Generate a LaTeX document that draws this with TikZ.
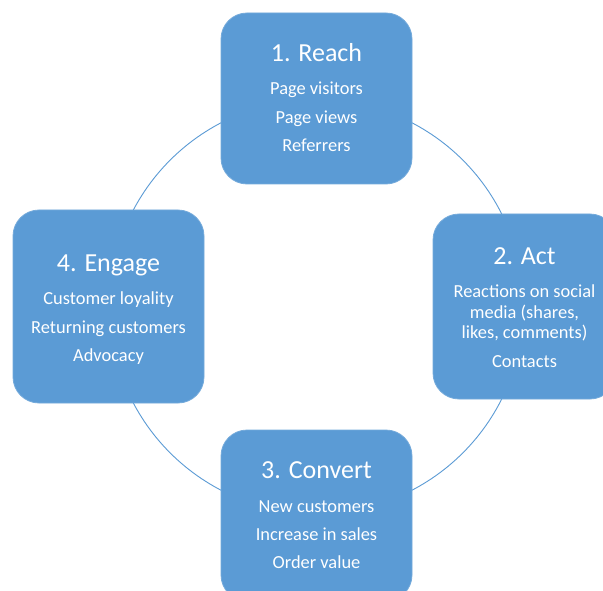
\documentclass[tikz,border=0pt]{standalone}
\usepackage{fontspec}
\setmainfont{Carlito}
\definecolor{officeblue}{HTML}{5B9BD5}
\tikzset{
  stagebox/.style={draw=officeblue!85!white, line width=0.8pt, fill=officeblue, rounded corners=26pt, inner sep=0pt},
  titletxt/.style={text=white, font=\fontsize{26}{30}\selectfont, anchor=base, inner sep=0pt},
  bodytxt/.style={text=white, font=\fontsize{18.4}{22}\selectfont, anchor=base, inner sep=0pt},
  ring/.style={draw=officeblue, line width=0.9pt}
}
\begin{document}
\begin{tikzpicture}[x=1pt,y=-1pt]
\useasboundingbox (0,0) rectangle (603,591);
\clip (0,0) rectangle (603,591);
\fill[white] (0,0) rectangle (603,591);
\coordinate (center) at (316.5,306.5);
\draw[ring] (center) circle[radius=207];
% boxes
\node[stagebox, minimum width=191pt, minimum height=171pt] (reach) at (316.5,98.5) {};
\node[stagebox, minimum width=183pt, minimum height=185pt] (act) at (524.5,306.5) {};
\node[stagebox, minimum width=191pt, minimum height=171pt] (convert) at (316.5,515.5) {};
\node[stagebox, minimum width=191pt, minimum height=193pt] (engage) at (108.5,306.5) {};
% Reach
\node[titletxt] (reacht) at (316.5,62) {1. Reach};
\node[bodytxt] (reach1) at (316.5,95) {Page visitors};
\node[bodytxt] (reach2) at (316.5,124) {Page views};
\node[bodytxt] (reach3) at (316.5,152) {Referrers};
% Act
\node[titletxt] (actt) at (524.5,264) {2. Act};
\node[bodytxt] (act1) at (524.5,298) {Reactions on social};
\node[bodytxt] (act2) at (524.5,318) {media (shares,};
\node[bodytxt] (act3) at (524.5,338) {likes, comments)};
\node[bodytxt] (act4) at (524.5,367) {Contacts};
% Engage
\node[titletxt] (engaget) at (108.5,271) {4. Engage};
\node[bodytxt] (engage1) at (108.5,304) {Customer loyality};
\node[bodytxt] (engage2) at (108.5,333) {Returning customers};
\node[bodytxt] (engage3) at (108.5,361) {Advocacy};
% Convert
\node[titletxt] (convertt) at (316.5,478) {3. Convert};
\node[bodytxt] (convert1) at (316.5,512) {New customers};
\node[bodytxt] (convert2) at (316.5,540) {Increase in sales};
\node[bodytxt] (convert3) at (316.5,568) {Order value};
\end{tikzpicture}
\end{document}
